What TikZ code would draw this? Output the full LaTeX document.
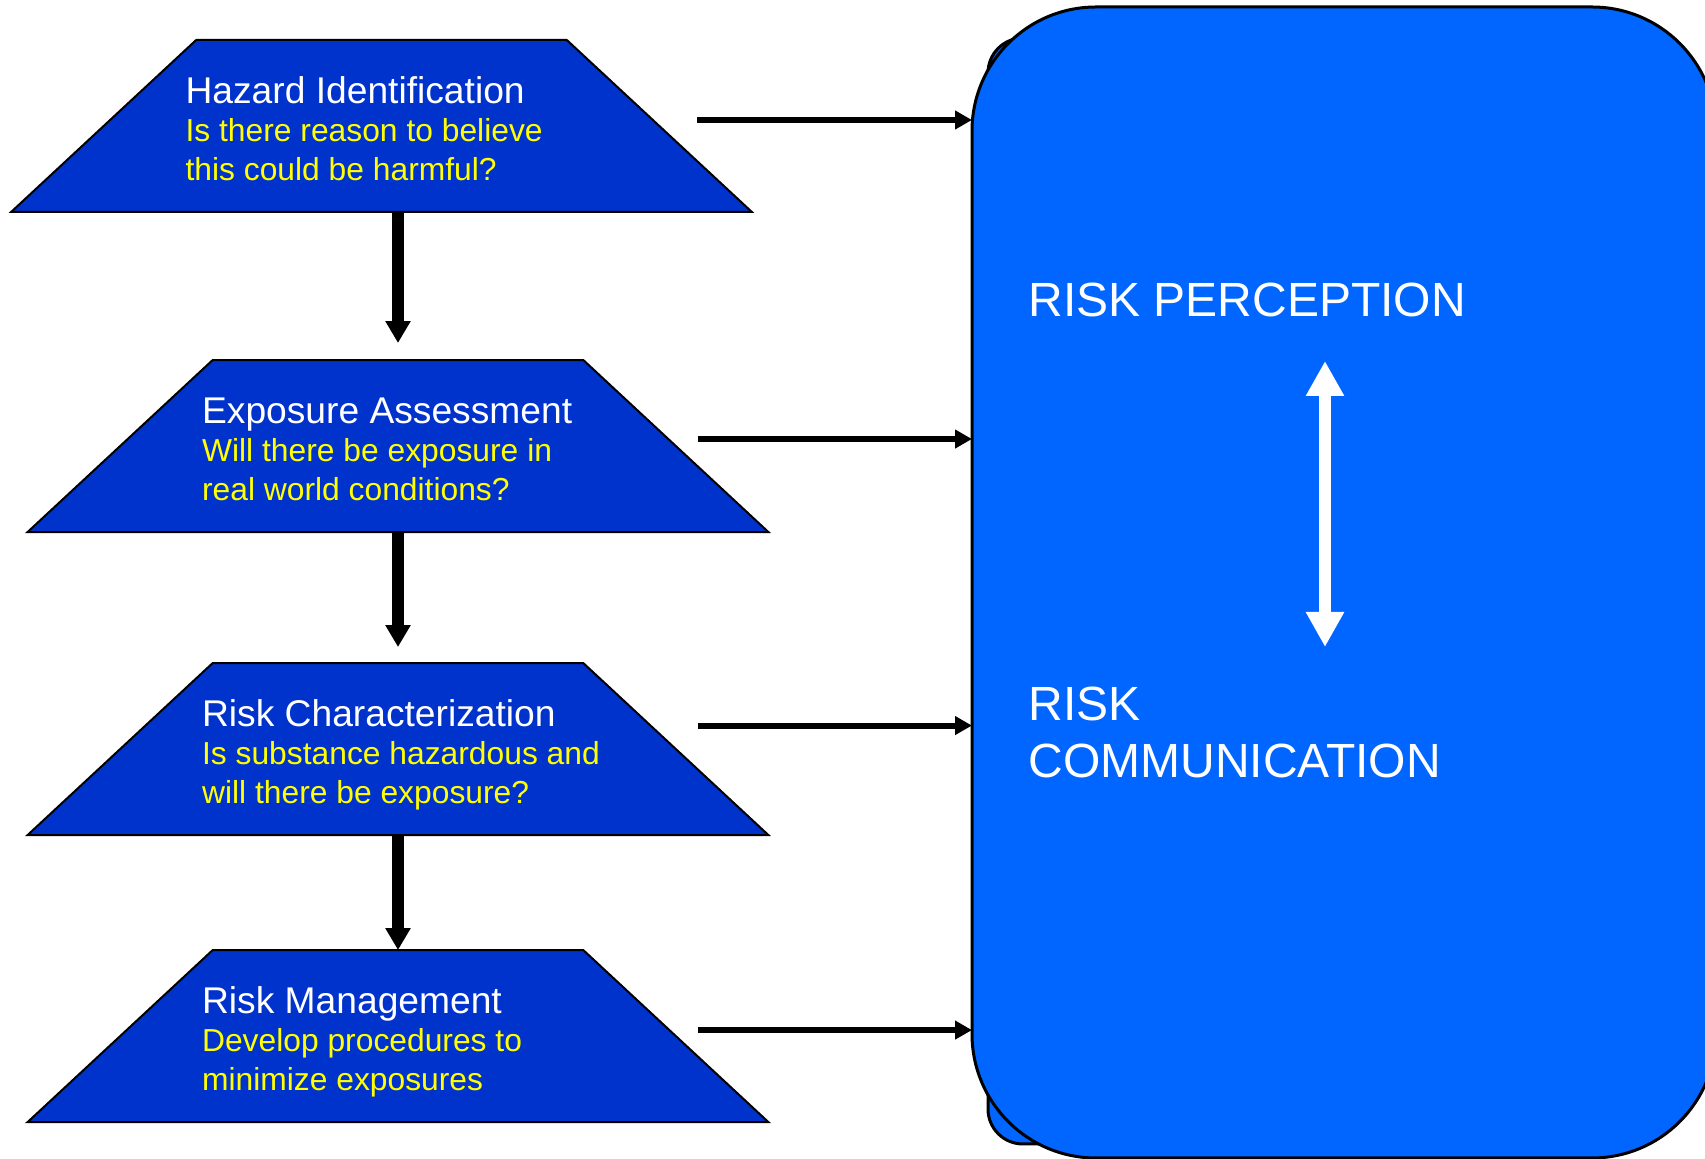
\documentclass[tikz,border=0pt]{standalone}
\usepackage{fontspec}
\setmainfont{Liberation Sans}
\usepackage{tikz}
\usetikzlibrary{arrows.meta,positioning,shapes.geometric}
\definecolor{deepblue}{RGB}{0,51,204}
\definecolor{brightblue}{RGB}{0,102,255}
\definecolor{qyellow}{RGB}{255,255,0}
\newcommand{\ask}[1]{{\color{qyellow}\fontsize{15.9}{19.3}\selectfont #1}}

\begin{document}
\begin{tikzpicture}[x=0.5pt,y=-0.5pt,
      stepbox/.style={trapezium,trapezium angle=42.9,
                      draw=black,line width=1pt,fill=deepblue,
                      inner xsep=92.65pt,inner ysep=43pt,outer sep=0pt},
      steptext/.style={anchor=base west,text width=210pt,align=left,inner sep=0pt,
                       text=white,font=\fontsize{18.6}{19.3}\selectfont,
                       execute at begin node={\spaceskip=0pt\relax}},
      riskbox/.style={draw=black,line width=1.5pt,fill=brightblue,rounded corners=62pt,
                      minimum width=372pt,minimum height=575.5pt,inner sep=0pt,outer sep=0pt},
      bigtext/.style={anchor=base west,text width=240pt,align=left,inner sep=0pt,
                      text=white,font=\fontsize{24}{28.3}\selectfont,
                      execute at begin node={\spaceskip=0pt\relax}},
      downarr/.style={-{Triangle[length=11pt,width=12pt]},line width=5.8pt,color=black},
      sidearr/.style={-{Triangle[length=8.5pt,width=9pt]},line width=3pt,color=black},
      dblarr/.style={{Triangle[length=17.5pt,width=18pt]}-{Triangle[length=17.5pt,width=18pt]},
                     line width=6pt,color=white}]
    \useasboundingbox (0,0) rectangle (1705,1159);
    % risk box on the right, with the smaller one behind it
    \node[riskbox,rounded corners=17.5pt,minimum width=343pt,minimum height=553pt] (back) at (1331,591) {};
    \node[riskbox] (box) at (1344,582.5) {};
    \node[bigtext] (perc) at (1028,316.7) {RISK PERCEPTION};
    \node[bigtext] (comm) at (1028,720.7) {RISK\\COMMUNICATION};
    \coordinate (pu) at (1325,361);
    \coordinate (pd) at (1325,647);
    \draw[dblarr] (pu) -- (pd);
    % the four steps
    \node[stepbox] (haz) at (381.5,126) {};
    \node[stepbox,below=74pt of haz,xshift=8.25pt] (exp) {};
    \node[stepbox,below=65.5pt of exp] (char) {};
    \node[stepbox,below=57.5pt of char] (mgmt) {};
    \node[steptext] (hazt) at ([xshift=-5.5pt,yshift=-31.6pt]haz.top left corner)
      {Hazard Identification\\\ask{Is there reason to believe}\\\ask{this could be harmful?}};
    \node[steptext] (expt) at ([xshift=-5.5pt,yshift=-31.6pt]exp.top left corner)
      {Exposure Assessment\\\ask{Will there be exposure in}\\\ask{real world conditions?}};
    \node[steptext] (chart) at ([xshift=-5.5pt,yshift=-31.6pt]char.top left corner)
      {Risk Characterization\\\ask{Is substance hazardous and}\\\ask{will there be exposure?}};
    \node[steptext] (mgmtt) at ([xshift=-5.5pt,yshift=-31.6pt]mgmt.top left corner)
      {Risk Management\\\ask{Develop procedures to}\\\ask{minimize exposures}};
    \draw[downarr,shorten >=8.5pt] (haz.south -| exp.north) -- (exp.north);
    \draw[downarr,shorten >=8pt] (exp.south) -- (char.north);
    \draw[downarr] (char.south) -- (mgmt.north);
    % feeds into the box
    \coordinate (h1) at ([xshift=19pt,yshift=3pt]haz.east);
    \coordinate (h2) at ([xshift=11pt,yshift=3.5pt]exp.east);
    \coordinate (h3) at ([xshift=11pt,yshift=11.75pt]char.east);
    \coordinate (h4) at ([xshift=11pt,yshift=3pt]mgmt.east);
    \draw[sidearr] (h1) -- (h1 -| box.west);
    \draw[sidearr] (h2) -- (h2 -| box.west);
    \draw[sidearr] (h3) -- (h3 -| box.west);
    \draw[sidearr] (h4) -- (h4 -| box.west);
\end{tikzpicture}
\end{document}
